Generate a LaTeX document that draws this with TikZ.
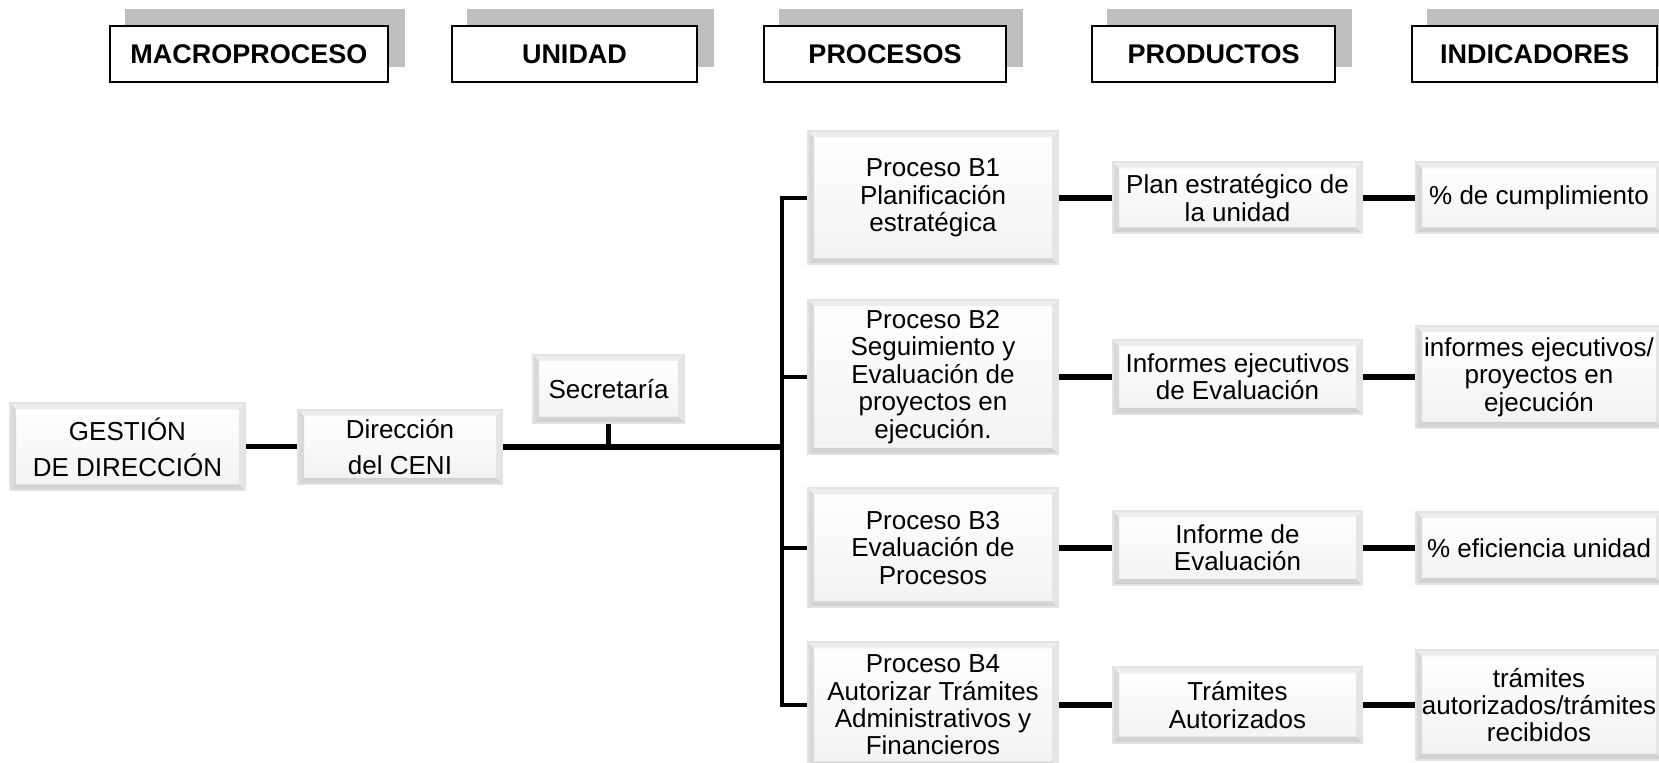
\documentclass[tikz,border=0pt]{standalone}
\usepackage{fontspec}
\setmainfont{Liberation Sans}
\usetikzlibrary{calc,backgrounds}

\tikzset{
  head/.style={draw=black, line width=0.8pt, fill=white, minimum height=28pt,
    inner sep=0pt, font=\fontsize{13.5}{15}\selectfont\bfseries},
  bevel/.style={draw=gray!22, line width=1pt, top color=white, bottom color=gray!10,
    align=center, inner sep=0pt, font=\fontsize{13}{13.7}\selectfont,
    path picture={
      \fill[gray!14] (path picture bounding box.north west) -- (path picture bounding box.north east)
        -- ([shift={(-3pt,-3pt)}]path picture bounding box.north east)
        -- ([shift={(3pt,-3pt)}]path picture bounding box.north west) -- cycle;
      \fill[gray!20] (path picture bounding box.north east) -- (path picture bounding box.south east)
        -- ([shift={(-3pt,3pt)}]path picture bounding box.south east)
        -- ([shift={(-3pt,-3pt)}]path picture bounding box.north east) -- cycle;
      \fill[gray!30] (path picture bounding box.south west) -- (path picture bounding box.north west)
        -- ([shift={(3pt,-3pt)}]path picture bounding box.north west)
        -- ([shift={(3pt,3pt)}]path picture bounding box.south west) -- cycle;
      \fill[gray!35] (path picture bounding box.south west) -- (path picture bounding box.south east)
        -- ([shift={(-3pt,3pt)}]path picture bounding box.south east)
        -- ([shift={(3pt,3pt)}]path picture bounding box.south west) -- cycle;
    }},
  wide/.style={font=\fontsize{13}{18}\selectfont},
  bus/.style={line width=2pt},
  conn/.style={line width=3pt},
}

\begin{document}
\begin{tikzpicture}[x=0.5pt, y=-0.5pt]
  \useasboundingbox (0,0) rectangle (1659,763);

  % column headers
  \node[head, minimum width=139pt]   (hmacro) at (249,54)    {MACROPROCESO};
  \node[head, minimum width=122.5pt] (hunid)  at (574.5,54)  {UNIDAD};
  \node[head, minimum width=121pt]   (hproc)  at (885,54)    {PROCESOS};
  \node[head, minimum width=121.5pt] (hprod)  at (1213.5,54) {PRODUCTOS};
  \node[head, minimum width=122.5pt] (hind)   at (1534.5,54) {INDICADORES};
  \begin{scope}[on background layer]
    \foreach \h in {hmacro,hunid,hproc,hprod,hind}
      \fill[gray!50] ([shift={(8pt,8pt)}]\h.south west) rectangle ([shift={(8pt,8pt)}]\h.north east);
  \end{scope}

  % left part
  \node[bevel, wide, minimum width=117.5pt, minimum height=43.5pt] (gest) at (127.5,447) {GESTIÓN\\DE DIRECCIÓN};
  \node[bevel, wide, minimum width=102pt, minimum height=37pt] (dir) at (400,447) {Dirección\\del CENI};
  \node[bevel, minimum width=75.5pt, minimum height=34pt] (sec) at (608.5,389) {Secretaría};

  % procesos
  \node[bevel, minimum width=125pt, minimum height=66.5pt] (pb1) at (933,198) {Proceso B1\\Planificación\\estratégica};
  \node[bevel, minimum width=125pt, minimum height=77pt] (pb2) at (933,377) {Proceso B2\\Seguimiento y\\Evaluación de\\proyectos en\\ejecución.};
  \node[bevel, minimum width=125pt, minimum height=59.5pt] (pb3) at (933,548) {Proceso B3\\Evaluación de\\Procesos};
  \node[bevel, minimum width=125pt, minimum height=62.5pt] (pb4) at (933,705) {Proceso B4\\Autorizar Trámites\\Administrativos y\\Financieros};

  % productos
  \node[bevel, minimum width=124.5pt, minimum height=35.5pt] (pr1) at (1237.5,198) {Plan estratégico de\\la unidad};
  \node[bevel, minimum width=124.5pt, minimum height=37pt] (pr2) at (1237.5,377) {Informes ejecutivos\\de Evaluación};
  \node[bevel, minimum width=124.5pt, minimum height=37pt] (pr3) at (1237.5,548) {Informe de\\Evaluación};
  \node[bevel, minimum width=124.5pt, minimum height=37.5pt] (pr4) at (1237.5,705) {Trámites\\Autorizados};

  % indicadores
  \node[bevel, minimum width=123pt, minimum height=35.5pt] (in1) at (1539,198) {\% de cumplimiento};
  \node[bevel, minimum width=123pt, minimum height=51pt] (in2) at (1539,377) {informes ejecutivos/\\proyectos en\\ejecución};
  \node[bevel, minimum width=123pt, minimum height=36pt] (in3) at (1539,548) {\% eficiencia unidad};
  \node[bevel, minimum width=123pt, minimum height=54.5pt] (in4) at (1539,705) {trámites\\autorizados/trámites\\recibidos};

  \coordinate (jn) at (782,447);

  % connectors
  \draw[conn, line width=2.5pt] (gest) -- (dir);
  \draw[conn] (dir) -- (jn);
  \draw[conn, line width=2.5pt] (sec.south) -- (sec.south |- jn);
  \draw[bus] (pb1.west) -| (jn) |- (pb4.west);
  \draw[bus] (jn |- pb2.west) -- (pb2.west);
  \draw[bus] (jn |- pb3.west) -- (pb3.west);
  \foreach \i in {1,2,3,4} {
    \draw[conn] (pb\i) -- (pr\i);
    \draw[conn] (pr\i) -- (in\i);
  }
\end{tikzpicture}
\end{document}
